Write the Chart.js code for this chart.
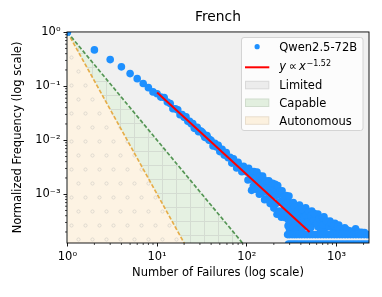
<!DOCTYPE html>
<html><head><meta charset="utf-8">
<script src="https://cdn.jsdelivr.net/npm/chart.js@4/dist/chart.umd.min.js"></script>
<style>html,body{margin:0;padding:0;background:#fff}</style>
</head><body>
<canvas id="c" width="382" height="297"></canvas>
<script>
// ---- data ----
const chartTitle = 'French';
const seriesLabel = 'Qwen2.5-72B';
const xTitle = 'Number of Failures (log scale)';
const yTitle = 'Normalized Frequency (log scale)';

const headX = [1,2,3,4,5,6,7,8,9,10,
  11,12,13,14,15,16,17,18,19,20,
  21,22,23,24,25,26,27,28,29,30];
const headY = [1.0,0.47,0.311,0.228,0.171,0.138,0.112,0.094,0.0784,0.0727,
  0.0629,0.0618,0.0511,0.0478,0.0384,0.0381,0.0364,0.0297,0.0300,0.0265,
  0.0270,0.0224,0.0225,0.0201,0.0203,0.0166,0.0172,0.0174,0.0144,0.0150];

const midX = [31,32,33,34,35,36,37,38,39,40,
  42,44,46,48,50,53,56,59,62,65,
  68,71,74,77,80,84,88,92,96];
const midY = [0.0146,0.0139,0.0128,0.0113,0.0117,0.0122,0.0108,0.0100,0.0102,0.00991,
  0.00784,0.00878,0.00748,0.00805,0.00615,0.00677,0.00530,0.00588,0.00475,0.00485,
  0.00377,0.00454,0.00380,0.00305,0.00388,0.00321,0.00260,0.00328,0.00268];

const bodyX = [100,103,105,108,110,113,115,118,120,123,
  125,128,130,133,135,138,140,143,145,148,
  150,153,155,158,160,163,165,168,170,173,
  176,179,182,185,188,191,194,197,200,204,
  207,210,214,217,221,224,228,231,235,239,
  243,247,251,255,260,265,270,275,280,285,
  290,295,300];
const bodyY = [0.00258,0.00183,0.00301,0.00191,0.00239,0.00118,0.00245,0.00142,0.00264,0.00176,
  0.00124,0.00218,0.00256,0.00130,0.00183,0.000997,0.00218,0.00146,0.00104,0.00183,
  0.00216,0.00110,0.00156,0.000793,0.00178,0.00126,0.000814,0.00173,0.00129,0.000831,
  0.00177,0.000993,0.000670,0.00137,0.00106,0.000683,0.00160,0.000920,0.000554,0.00123,
  0.00152,0.000663,0.000953,0.000427,0.00144,0.000707,0.000994,0.000488,0.00114,0.000735,
  0.000376,0.00116,0.000748,0.000461,0.000893,0.000573,0.000368,0.000941,0.000605,0.000408,
  0.000722,0.000927,0.000486];

const tailX = [288,293,298,305,310,315,320,330,335,345,
  350,360,365,380,387,400,420,440,453,470,
  500,530,540,580,620,620,680,725,750,800,
  845,900,960,1000,1060,1150,1235,1400,1630,1900,
  302,308,312,318,325,328,340,342,355,358,
  370,375,392,410,415,430,460,480,490,515,
  520,555,565,600,640,660,700,710,770,830,
  870,930,1030,1100,1200,1300,1500,1750,2050];
const tailY = [0.00026,0.00033,0.00023,0.00025,0.00036,0.00060,0.00027,0.00070,0.00044,0.00023,
  0.00031,0.00056,0.00026,0.00025,0.00063,0.00040,0.00030,0.00046,0.00056,0.00026,
  0.00035,0.00049,0.00028,0.00038,0.00043,0.00025,0.00031,0.00038,0.00024,0.00028,
  0.00032,0.00024,0.00029,0.00022,0.00027,0.00022,0.00024,0.00021,0.00023,0.000198,
  0.00040,0.00029,0.00050,0.00033,0.00047,0.00024,0.00058,0.00036,0.00042,0.00022,
  0.00034,0.00050,0.00029,0.00052,0.00023,0.00036,0.00040,0.00031,0.00048,0.00024,
  0.00040,0.00033,0.00044,0.00029,0.00035,0.00023,0.00037,0.00027,0.00032,0.00025,
  0.00029,0.00026,0.00025,0.00023,0.00021,0.00022,0.00020,0.00020,0.000195];

const floorX = [285,300,320,340,360,385,410,440,470,505,
  540,580,620,665,715,765,820,880,945,1010,
  1085,1160,1245,1335,1430,1535,1645,1765,1890,2030,
  2180,2300,
  292,310,330,350,372,397,425,455,487,522,
  560,600,643,690,740,792,850,910,975,1045,
  1120,1200,1290,1380,1480,1585,1700,1820,1955,2095,
  2250];
const floorY = [0.000179,0.000179,0.000179,0.000179,0.000179,0.000179,0.000179,0.000179,0.000179,0.000179,
  0.000179,0.000179,0.000179,0.000179,0.000179,0.000179,0.000179,0.000179,0.000179,0.000179,
  0.000179,0.000179,0.000179,0.000179,0.000179,0.000179,0.000179,0.000179,0.000179,0.000179,
  0.000179,0.000179,
  0.00012,0.00012,0.00012,0.00012,0.00012,0.00012,0.00012,0.00012,0.00012,0.00012,
  0.00012,0.00012,0.00012,0.00012,0.00012,0.00012,0.00012,0.00012,0.00012,0.00012,
  0.00012,0.00012,0.00012,0.00012,0.00012,0.00012,0.00012,0.00012,0.00012,0.00012,
  0.00012];

const fitLabelBase = 'y \u221D x';
const fitExponent = '\u22121.52';
const fitX = [10, 500];
const fitY = [0.0761, 0.000200];

const limitedX = [1, 100, 2300];
const limitedY = [1, 0.0001, 0.0001];
const capableX = [1, 100];
const capableY = [1, 0.0001];
const autonomousX = [1, 21.544];
const autonomousY = [1, 0.0001];

const xTickValues = [1, 10, 100, 1000];
const xTickLabels = ['10\u2070', '10\u00B9', '10\u00B2', '10\u00B3'];
const yTickValues = [0.001, 0.01, 0.1, 1];
const yTickLabels = ['10\u207B\u00B3', '10\u207B\u00B2', '10\u207B\u00B9', '10\u2070'];
const xRange = [0.99, 2300];
const yRange = [1.25e-4, 1.01];

// ---- helpers ----
const FONT = '"DejaVu Sans", "Liberation Sans", sans-serif';
function pts(xs, ys) { return xs.map((x, i) => ({x: x, y: ys[i]})); }
const scatterX = [].concat(headX, midX, bodyX, tailX, floorX);
const scatterY = [].concat(headY, midY, bodyY, tailY, floorY);

function makePattern(w, h, bg, draw) {
  const c = document.createElement('canvas');
  c.width = w; c.height = h;
  const g = c.getContext('2d');
  g.fillStyle = bg; g.fillRect(0, 0, w, h);
  draw(g, w, h);
  return g.createPattern(c, 'repeat');
}
const capablePattern = makePattern(14, 14, '#e5f1e2', (g) => {
  g.fillStyle = '#d4dcd2';
  g.fillRect(8, 0, 1, 14);
  g.fillRect(0, 11, 14, 1);
});
const autonomousPattern = makePattern(14, 28, '#fdf3e3', (g, w, h) => {
  g.strokeStyle = '#d9d4cc';
  g.lineWidth = 0.8;
  const dots = [[1.5, 1.5], [8.5, 15.5]];
  dots.forEach(([dx, dy]) => {
    for (const ox of [-w, 0, w]) for (const oy of [-h, 0, h]) {
      g.beginPath(); g.arc(dx + ox, dy + oy, 1.6, 0, Math.PI * 2); g.stroke();
    }
  });
});

function minorValues(min, max) {
  const out = [];
  for (let e = Math.floor(Math.log10(min)); e <= Math.ceil(Math.log10(max)); e++) {
    for (let k = 2; k <= 9; k++) {
      const v = k * Math.pow(10, e);
      if (v >= min && v <= max) out.push(v);
    }
  }
  return out;
}

const decorPlugin = {
  id: 'decor',
  afterDraw(chart) {
    const ctx = chart.ctx, a = chart.chartArea;
    const xs = chart.scales.x, ys = chart.scales.y;
    ctx.save();
    // minor ticks
    ctx.strokeStyle = '#000'; ctx.lineWidth = 0.7;
    ctx.beginPath();
    minorValues(xRange[0], xRange[1]).forEach(v => {
      const p = xs.getPixelForValue(v);
      ctx.moveTo(p, a.bottom); ctx.lineTo(p, a.bottom + 2);
    });
    minorValues(yRange[0], yRange[1]).forEach(v => {
      const p = ys.getPixelForValue(v);
      ctx.moveTo(a.left, p); ctx.lineTo(a.left - 2, p);
    });
    ctx.stroke();
    // frame
    ctx.lineWidth = 0.9;
    ctx.strokeRect(a.left, a.top, a.right - a.left, a.bottom - a.top);

    // legend
    const L = {x: 241.5, y: 37.5, w: 121.5, h: 93};
    ctx.beginPath();
    if (ctx.roundRect) ctx.roundRect(L.x, L.y, L.w, L.h, 2.5); else ctx.rect(L.x, L.y, L.w, L.h);
    ctx.fillStyle = 'rgba(255,255,255,0.8)'; ctx.fill();
    ctx.strokeStyle = '#d4d4d4'; ctx.lineWidth = 1; ctx.stroke();

    const hx = 245, hw = 24.3, tx = 279.3;
    const font = '11.5px ' + FONT;
    ctx.textBaseline = 'alphabetic'; ctx.textAlign = 'left'; ctx.fillStyle = '#000';
    // series
    ctx.beginPath(); ctx.arc(hx + hw / 2, 46.7, 2.6, 0, Math.PI * 2);
    ctx.fillStyle = '#1e90ff'; ctx.fill();
    ctx.fillStyle = '#000'; ctx.font = font;
    ctx.fillText(seriesLabel, tx, 51.3);
    // fit
    ctx.strokeStyle = '#ff0000'; ctx.lineWidth = 2;
    ctx.beginPath(); ctx.moveTo(hx, 67.3); ctx.lineTo(hx + hw, 67.3); ctx.stroke();
    let cx = tx;
    const ital = 'italic 11.5px ' + FONT;
    ctx.font = ital; ctx.fillText('y', cx, 70); cx += ctx.measureText('y').width + 2.6;
    ctx.font = font; ctx.fillText('\u221D', cx, 70); cx += ctx.measureText('\u221D').width + 2.2;
    ctx.font = ital; ctx.fillText('x', cx, 70); cx += ctx.measureText('x').width + 0.6;
    ctx.font = '8px ' + FONT; ctx.fillText(fitExponent, cx, 65.6);
    // patches
    const patches = [
      ['Limited', '#ececec', 80.8, 88.9],
      ['Capable', '#e2efdf', 98.5, 106.7],
      ['Autonomous', '#fcf1df', 116.3, 124.5]
    ];
    patches.forEach(([lab, col, py, by]) => {
      ctx.fillStyle = col; ctx.fillRect(hx, py, hw, 8.5);
      ctx.strokeStyle = 'rgba(0,0,0,0.08)'; ctx.lineWidth = 1;
      ctx.strokeRect(hx + 0.5, py + 0.5, hw - 1, 7.5);
      ctx.fillStyle = '#000'; ctx.font = font;
      ctx.fillText(lab, tx, by);
    });
    ctx.restore();
  }
};

const tickFont = {family: FONT, size: 11.5};

new Chart(document.getElementById('c'), {
  type: 'scatter',
  data: {
    datasets: [
      {type: 'line', label: fitLabelBase + fitExponent, data: pts(fitX, fitY), borderColor: '#ff0000',
       borderWidth: 2, pointRadius: 0, fill: false, order: 1, clip: 0},
      {type: 'scatter', label: seriesLabel, data: pts(scatterX, scatterY), backgroundColor: '#1e90ff',
       borderWidth: 0, pointRadius: 3.8, order: 2, clip: 0},
      {type: 'line', label: 'Capable boundary', data: pts(capableX, capableY), borderColor: '#559655',
       borderWidth: 1.7, borderDash: [4, 2], pointRadius: 0, fill: false, order: 3, clip: 0},
      {type: 'line', label: 'Autonomous boundary', data: pts(autonomousX, autonomousY), borderColor: '#e6ad48',
       borderWidth: 1.7, borderDash: [4, 2], pointRadius: 0, fill: false, order: 4, clip: 0},
      {type: 'line', label: 'Autonomous', data: pts(autonomousX, autonomousY), borderColor: 'transparent',
       borderWidth: 0, pointRadius: 0, fill: 'start', backgroundColor: autonomousPattern, order: 5, clip: 0},
      {type: 'line', label: 'Capable', data: pts(capableX, capableY), borderColor: 'transparent',
       borderWidth: 0, pointRadius: 0, fill: 'start', backgroundColor: capablePattern, order: 6, clip: 0},
      {type: 'line', label: 'Limited', data: pts(limitedX, limitedY), borderColor: 'transparent',
       borderWidth: 0, pointRadius: 0, fill: 'end', backgroundColor: '#f0f0f0', order: 7, clip: 0}
    ]
  },
  options: {
    responsive: false,
    devicePixelRatio: 1,
    animation: false,
    events: [],
    layout: {padding: {left: 0, right: 13, top: 0, bottom: 0}},
    plugins: {
      legend: {display: false},
      tooltip: {enabled: false},
      title: {display: true, text: chartTitle, fullSize: false, color: '#000',
        font: {family: FONT, size: 13.8, weight: 'normal'}, padding: {top: 9, bottom: 6.4}}
    },
    scales: {
      x: {
        type: 'logarithmic', min: xRange[0], max: xRange[1],
        afterBuildTicks: (s) => { s.ticks = xTickValues.map(v => ({value: v, major: true})); },
        afterFit: (s) => { s.height = 54; },
        ticks: {autoSkip: false, maxRotation: 0, color: '#000', font: tickFont, padding: 3.5,
          callback: (v) => { const i = xTickValues.indexOf(v); return i >= 0 ? xTickLabels[i] : ''; }},
        grid: {drawOnChartArea: false, drawTicks: true, tickLength: 3.5, tickColor: '#000', tickWidth: 0.9},
        border: {display: false},
        title: {display: true, text: xTitle, color: '#000', font: {family: FONT, size: 11.5},
          padding: {top: 0, bottom: 16.6}}
      },
      y: {
        type: 'logarithmic', min: yRange[0], max: yRange[1],
        afterBuildTicks: (s) => { s.ticks = yTickValues.map(v => ({value: v, major: true})); },
        afterFit: (s) => { s.width = 67; },
        ticks: {autoSkip: false, color: '#000', font: tickFont, padding: 3,
          callback: (v) => { const i = yTickValues.indexOf(v); return i >= 0 ? yTickLabels[i] : ''; }},
        grid: {drawOnChartArea: false, drawTicks: true, tickLength: 3.5, tickColor: '#000', tickWidth: 0.9},
        border: {display: false},
        title: {display: true, text: yTitle, color: '#000', font: {family: FONT, size: 11.5},
          padding: {top: 10.8, bottom: 0}}
      }
    }
  },
  plugins: [decorPlugin]
});
</script>
</body></html>
